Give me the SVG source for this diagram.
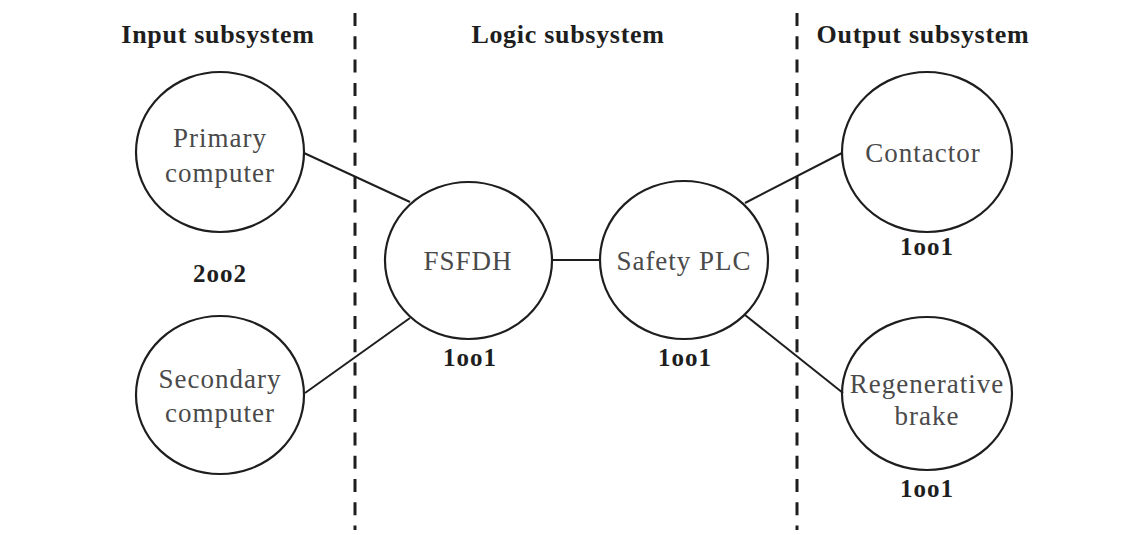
<svg xmlns="http://www.w3.org/2000/svg" width="1145" height="535" viewBox="0 0 1145 535">
<style>
.node{fill:none;stroke:#1e1e1e;stroke-width:2.2}
.lbl{font-family:"Liberation Serif",serif;font-size:27px;fill:#4a4a4a;text-anchor:middle;letter-spacing:1px}
.hd{font-family:"Liberation Serif",serif;font-size:26px;font-weight:bold;fill:#1e1e1e;text-anchor:middle;letter-spacing:0.7px}
.vote{font-family:"Liberation Serif",serif;font-size:25px;font-weight:bold;fill:#1e1e1e;text-anchor:middle;letter-spacing:1px}
.conn{stroke:#1e1e1e;stroke-width:2;fill:none}
.div{stroke:#1e1e1e;stroke-width:3;stroke-dasharray:13 10.3;fill:none}
</style>
<rect width="1145" height="535" fill="#ffffff"/>
<g id="dividers">
<line class="div" x1="355" y1="13" x2="355" y2="530"/>
<line class="div" x1="797" y1="13" x2="797" y2="530"/>
</g>
<g id="headings">
<text class="hd" x="218" y="43">Input subsystem</text>
<text class="hd" x="568" y="43">Logic subsystem</text>
<text class="hd" x="923" y="43">Output subsystem</text>
</g>
<g id="connectors">
<line class="conn" x1="304" y1="153" x2="410" y2="202"/>
<line class="conn" x1="305" y1="393" x2="410" y2="318"/>
<line class="conn" x1="552" y1="260" x2="600" y2="260"/>
<line class="conn" x1="745" y1="203" x2="842" y2="153"/>
<line class="conn" x1="745" y1="315" x2="843" y2="393"/>
</g>
<g id="primary">
<ellipse class="node" cx="220" cy="152" rx="84" ry="80"/>
<text class="lbl" x="220" y="147">Primary</text>
<text class="lbl" x="220" y="182">computer</text>
</g>
<g id="vote-input">
<text class="vote" x="220" y="282">2oo2</text>
</g>
<g id="secondary">
<ellipse class="node" cx="220" cy="395" rx="84" ry="79"/>
<text class="lbl" x="220" y="388">Secondary</text>
<text class="lbl" x="220" y="422">computer</text>
</g>
<g id="fsfdh">
<ellipse class="node" cx="468.5" cy="260.5" rx="83.5" ry="78.5"/>
<text class="lbl" x="468" y="270">FSFDH</text>
<text class="vote" x="470" y="366">1oo1</text>
</g>
<g id="plc">
<ellipse class="node" cx="684" cy="260" rx="84" ry="79"/>
<text class="lbl" x="684" y="270">Safety PLC</text>
<text class="vote" x="685" y="366">1oo1</text>
</g>
<g id="contactor">
<ellipse class="node" cx="927" cy="152" rx="85" ry="80"/>
<text class="lbl" x="923" y="162">Contactor</text>
<text class="vote" x="927" y="255">1oo1</text>
</g>
<g id="regen">
<ellipse class="node" cx="927" cy="393.5" rx="85" ry="76.5"/>
<text class="lbl" x="927" y="393">Regenerative</text>
<text class="lbl" x="927" y="425">brake</text>
<text class="vote" x="927" y="497">1oo1</text>
</g>
</svg>
